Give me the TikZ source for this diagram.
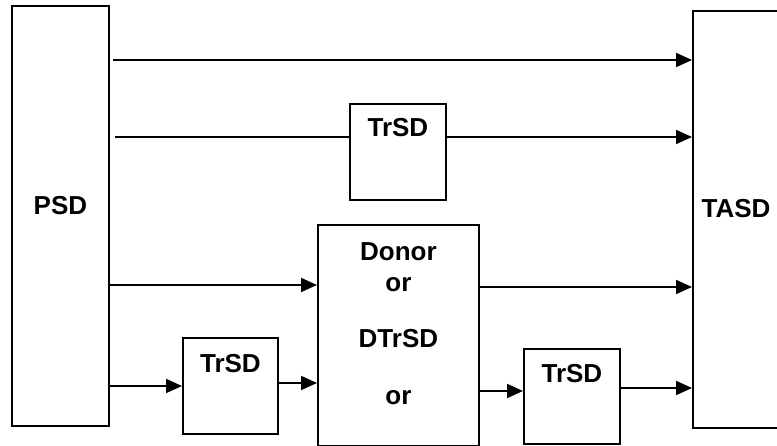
\documentclass[tikz,border=0pt]{standalone}
\usepackage{fontspec}
\setmainfont{Liberation Sans}
\usetikzlibrary{arrows.meta, positioning, calc}

\begin{document}
\begin{tikzpicture}[
        x=1pt, y=1pt,
        blk/.style={rectangle, draw, line width=1.8pt, inner sep=0pt, anchor=north west},
        lbl/.style={font=\fontsize{26}{30}\selectfont\bfseries, inner sep=0pt, anchor=base},
        flow/.style={line width=1.8pt, -{Triangle[length=16pt, width=14pt]}}
    ]
    \useasboundingbox (0,0) rectangle (777,446);

    % blocks
    \node[blk, minimum width=97, minimum height=420] (psd) at (11,441) {};
    \node[blk, minimum width=100, minimum height=417] (tasd) at (692,436) {};
    \node[blk, minimum width=96, minimum height=96] (trsdA) at (349,343) {};
    \node[blk, minimum width=161, minimum height=221] (donor) at (317,222) {};
    \node[blk, minimum width=95, minimum height=96] (trsdB) at (182,109) {};
    \node[blk, minimum width=96, minimum height=95] (trsdC) at (523,98) {};

    % texts
    \node[lbl] (psdtxt) at ([yshift=1pt]psd.center) {PSD};
    \node[lbl] (tasdtxt) at ([xshift=44pt, yshift=2pt]tasd.west) {TASD};
    \node[lbl] (trsdAtxt) at ([yshift=-34pt]trsdA.north) {TrSD};
    \node[lbl] (trsdBtxt) at ([yshift=-36pt]trsdB.north) {TrSD};
    \node[lbl] (trsdCtxt) at ([yshift=-35pt]trsdC.north) {TrSD};
    \foreach \txt/\dy [count=\i] in {Donor/37, or/68, DTrSD/124, or/181}
        \node[lbl] (donortxt\i) at ([yshift=-\dy pt]donor.north) {\txt};

    % rows of the connectors
    \coordinate (row1) at (0,386);
    \coordinate (row2) at (0,309);
    \coordinate (row3) at (0,161);
    \coordinate (row3b) at (0,159);
    \coordinate (row4) at (0,60);
    \coordinate (row4b) at (0,63);
    \coordinate (row5) at (0,55);
    \coordinate (row5b) at (0,58);

    % connectors
    \draw[flow, shorten <=3pt] (psd.east |- row1) -- (tasd.west |- row1);
    \draw[line width=1.8pt, shorten <=5pt] (psd.east |- row2) -- (trsdA.west |- row2);
    \draw[flow] (trsdA.east |- row2) -- (tasd.west |- row2);
    \draw[flow] (psd.east |- row3) -- (donor.west |- row3);
    \draw[flow] (donor.east |- row3b) -- (tasd.west |- row3b);
    \draw[flow] (psd.east |- row4) -- (trsdB.west |- row4);
    \draw[flow] (trsdB.east |- row4b) -- (donor.west |- row4b);
    \draw[flow] (donor.east |- row5) -- (trsdC.west |- row5);
    \draw[flow] (trsdC.east |- row5b) -- (tasd.west |- row5b);
\end{tikzpicture}
\end{document}
